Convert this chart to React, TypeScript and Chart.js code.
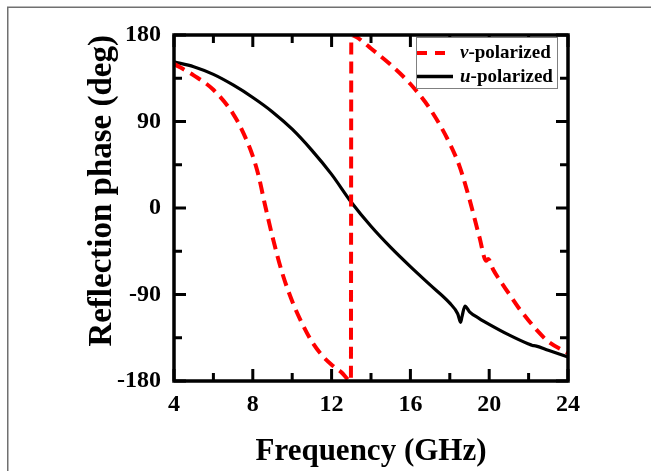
import React, { useEffect, useRef } from 'react';
import { Chart, registerables } from 'chart.js';

Chart.register(...registerables);

// ---- data ----
const freqU = [4, 5, 6, 7, 8, 9, 10, 11, 12, 13, 14, 15, 16, 17, 18, 18.4, 18.55, 18.62, 18.77, 19, 19.5, 20, 21, 22, 22.2, 22.35, 23, 24];
const phaseU = [152, 147, 139, 128, 115, 100, 82, 60, 35, 6, -19, -41, -61, -80, -99, -110, -119, -113, -102, -108, -115, -121, -132, -141.5, -143, -143.5, -148, -155];

const freqV = [4, 5, 6, 7, 7.5, 8, 8.3, 8.6, 9, 9.5, 10, 10.5, 11, 11.5, 12, 12.5, 12.98, 13.0, 13.4, 14, 15, 16, 17, 18, 18.5, 19, 19.5, 19.85, 19.95, 20.2, 20.5, 21, 21.5, 22, 22.5, 23, 24];
const phaseV = [150, 138, 123, 98, 79, 54, 33, 5, -30, -68, -97, -120, -139, -153, -163, -171, -180, 180, 176, 166, 149, 129, 103, 67, 43, 9, -30, -55, -53, -64, -74, -89, -104, -117, -129, -139, -151];

const xMajor = [4, 8, 12, 16, 20, 24];
const xMinor = [6, 10, 14, 18, 22];
const yMajor = [-180, -90, 0, 90, 180];
const yMinor = [-135, -45, 45, 135];

const seriesNames = ['v-polarized', 'u-polarized'];
const seriesColors = ['#ff0000', '#000000'];

const FONT = '"Liberation Serif", "Times New Roman", serif';

const framePlugin = {
  id: 'framePlugin',
  beforeDraw(chart: any) {
    const ctx = chart.ctx;
    ctx.save();
    ctx.strokeStyle = '#707070';
    ctx.lineWidth = 1.5;
    ctx.beginPath();
    ctx.moveTo(7.75, chart.height);
    ctx.lineTo(7.75, 7.25);
    ctx.lineTo(chart.width, 7.25);
    ctx.stroke();
    ctx.restore();
  },
  afterDatasetsDraw(chart: any) {
    const { ctx, chartArea: a, scales } = chart;
    const xs = scales.x;
    const ys = scales.y;
    ctx.save();
    ctx.strokeStyle = '#000';
    ctx.lineWidth = 3;
    ctx.lineCap = 'butt';
    const MAJ = 12;
    const MIN = 8;
    const tickX = (v: number, len: number) => {
      const px = xs.getPixelForValue(v);
      ctx.beginPath();
      ctx.moveTo(px, a.bottom);
      ctx.lineTo(px, a.bottom - len);
      ctx.moveTo(px, a.top);
      ctx.lineTo(px, a.top + len);
      ctx.stroke();
    };
    const tickY = (v: number, len: number) => {
      const py = ys.getPixelForValue(v);
      ctx.beginPath();
      ctx.moveTo(a.left, py);
      ctx.lineTo(a.left + len, py);
      ctx.moveTo(a.right, py);
      ctx.lineTo(a.right - len, py);
      ctx.stroke();
    };
    xMajor.forEach((v) => tickX(v, MAJ));
    xMinor.forEach((v) => tickX(v, MIN));
    yMajor.forEach((v) => tickY(v, MAJ));
    yMinor.forEach((v) => tickY(v, MIN));
    ctx.lineWidth = 3.5;
    ctx.strokeRect(a.left, a.top, a.right - a.left, a.bottom - a.top);

    // legend
    const lx = 416, ly = 37, lw = 141, lh = 51;
    ctx.fillStyle = '#fff';
    ctx.fillRect(lx, ly, lw, lh);
    ctx.strokeStyle = '#808080';
    ctx.lineWidth = 1;
    ctx.strokeRect(lx + 0.5, ly + 0.5, lw, lh);

    const rows = [58, 82];
    const lineY = [53, 76.5];
    ctx.strokeStyle = seriesColors[0];
    ctx.lineWidth = 4;
    ctx.setLineDash([10, 8]);
    ctx.beginPath();
    ctx.moveTo(417, lineY[0]);
    ctx.lineTo(445, lineY[0]);
    ctx.stroke();
    ctx.setLineDash([]);
    ctx.strokeStyle = seriesColors[1];
    ctx.lineWidth = 3.5;
    ctx.beginPath();
    ctx.moveTo(417, lineY[1]);
    ctx.lineTo(453, lineY[1]);
    ctx.stroke();

    ctx.fillStyle = '#000';
    ctx.textBaseline = 'alphabetic';
    ctx.textAlign = 'left';
    seriesNames.forEach((name, i) => {
      const first = name.slice(0, 1);
      const rest = name.slice(1);
      ctx.font = `italic bold 19px ${FONT}`;
      ctx.fillText(first, 460, rows[i]);
      const w = ctx.measureText(first).width;
      ctx.font = `bold 19px ${FONT}`;
      ctx.fillText(rest, 460 + w, rows[i]);
    });
    ctx.restore();
  },
};

export default function App() {
  const ref = useRef<HTMLCanvasElement | null>(null);
  useEffect(() => {
    if (!ref.current) return;
    const chart = new Chart(ref.current, {
      type: 'scatter',
      data: {
        datasets: [
          {
            label: seriesNames[0],
            data: freqV.map((f, i) => ({ x: f, y: phaseV[i] })),
            showLine: true,
            borderColor: seriesColors[0],
            borderWidth: 4,
            borderDash: [12, 7],
            pointRadius: 0,
            cubicInterpolationMode: 'monotone',
            fill: false,
          },
          {
            label: seriesNames[1],
            data: freqU.map((f, i) => ({ x: f, y: phaseU[i] })),
            showLine: true,
            borderColor: seriesColors[1],
            borderWidth: 3.2,
            pointRadius: 0,
            cubicInterpolationMode: 'monotone',
            fill: false,
          },
        ],
      },
      options: {
        animation: false,
        responsive: false,
        maintainAspectRatio: false,
        layout: { padding: { left: 0, top: 35, right: 83, bottom: 0 } },
        plugins: { legend: { display: false }, tooltip: { enabled: false } },
        scales: {
          x: {
            type: 'linear',
            min: 4,
            max: 24,
            afterFit: (s: any) => { s.height = 90; },
            afterBuildTicks: (s: any) => { s.ticks = xMajor.map((v) => ({ value: v })); },
            grid: { display: false, drawTicks: false },
            border: { display: false },
            ticks: {
              padding: 9,
              color: '#000',
              font: { family: FONT, size: 24, weight: 'bold' },
              maxRotation: 0,
            },
            title: {
              display: true,
              text: 'Frequency (GHz)',
              color: '#000',
              font: { family: FONT, size: 31, weight: 'bold' },
              padding: { top: 0, bottom: 0 },
            },
          },
          y: {
            type: 'linear',
            min: -180,
            max: 180,
            afterFit: (s: any) => { s.width = 174; },
            afterBuildTicks: (s: any) => { s.ticks = yMajor.map((v) => ({ value: v })); },
            grid: { display: false, drawTicks: false },
            border: { display: false },
            ticks: {
              padding: 13,
              color: '#000',
              font: { family: FONT, size: 24, weight: 'bold' },
            },
            title: {
              display: true,
              text: 'Reflection phase (deg)',
              align: 'end',
              color: '#000',
              font: { family: FONT, size: 33, weight: 'bold' },
              padding: { top: 83, bottom: 0 },
            },
          },
        },
      },
      plugins: [framePlugin],
    } as any);
    return () => chart.destroy();
  }, []);
  return (
    <div style={{ position: 'fixed', left: 0, top: 0, width: 651, height: 471, background: '#fff' }}>
      <canvas ref={ref} width={651} height={471} style={{ display: 'block', width: 651, height: 471 }} />
    </div>
  );
}
